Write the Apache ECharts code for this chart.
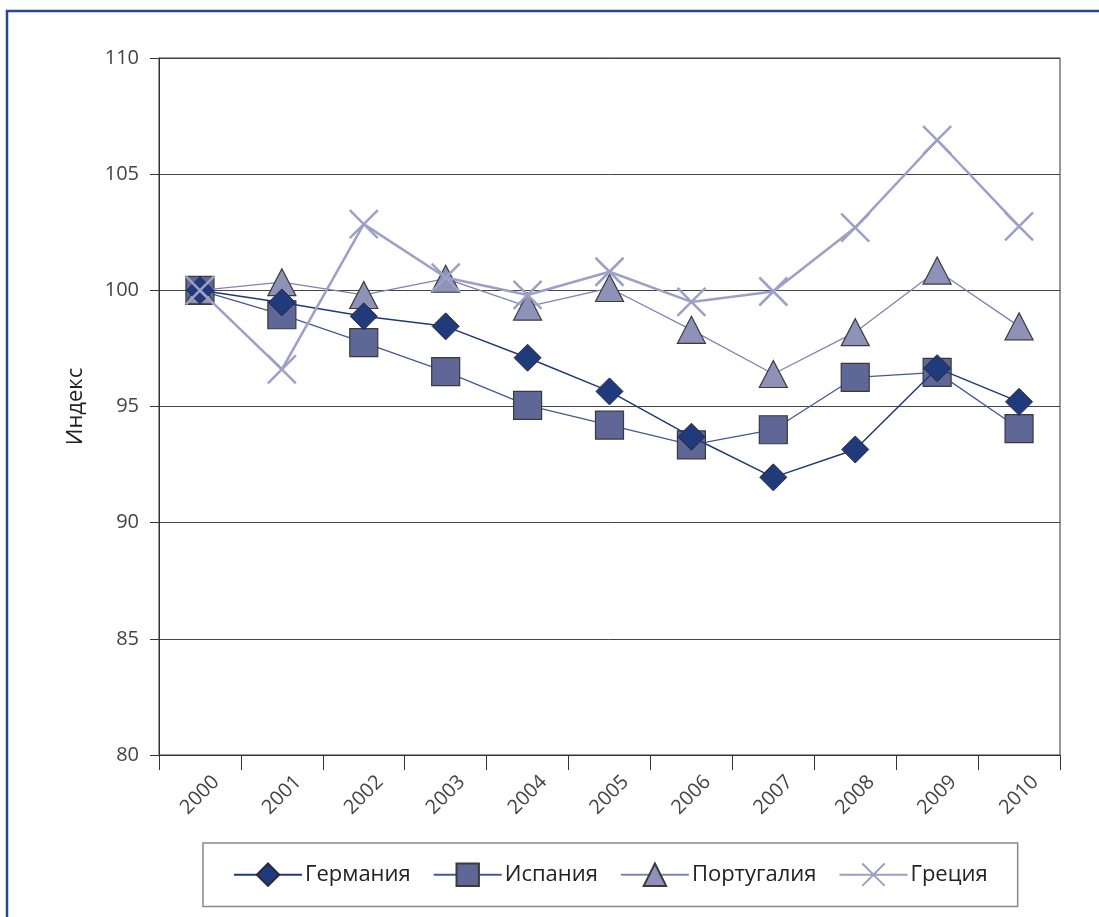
<!DOCTYPE html>
<html>
<head>
<meta charset="utf-8">
<script src="https://cdn.jsdelivr.net/npm/echarts@6/dist/echarts.min.js"></script>
<style>
html,body{margin:0;padding:0;background:#fff;}
#chart{width:1099px;height:917px;}
</style>
</head>
<body>
<div id="chart"></div>
<script>
const years = ['2000','2001','2002','2003','2004','2005','2006','2007','2008','2009','2010'];
const germany  = [100, 99.48, 98.88, 98.45, 97.1, 95.65, 93.7, 91.95, 93.15, 96.65, 95.2];
const spain    = [100, 98.95, 97.75, 96.5, 95.05, 94.2, 93.35, 94.0, 96.25, 96.47, 94.05];
const portugal = [100, 100.35, 99.8, 100.5, 99.3, 100.1, 98.3, 96.4, 98.2, 100.85, 98.45];
const greece   = [100, 96.6, 102.85, 100.55, 99.8, 100.8, 99.5, 99.95, 102.7, 106.47, 102.75];
const yTicks = { min: 80, max: 110, interval: 5 };
const seriesNames = ['Германия', 'Испания', 'Португалия', 'Греция'];

const FONT = '"Open Sans", "Noto Sans", sans-serif';
const chart = echarts.init(document.getElementById('chart'), null, { renderer: 'canvas' });
const crossPath = 'path://M0,0 L20,20 M20,0 L0,20';

chart.setOption({
  animation: false,
  backgroundColor: '#ffffff',
  graphic: [{
    type: 'rect',
    shape: { x: 7, y: 11, width: 1200, height: 1000 },
    style: { fill: 'none', stroke: '#2a4690', lineWidth: 2.5 },
    z: 100
  }],
  grid: {
    left: 159, right: 39, top: 58, bottom: 162,
    show: true, borderColor: '#333', borderWidth: 1, backgroundColor: 'transparent'
  },
  legend: {
    top: 843, left: 203,
    padding: [18, 30, 18, 30],
    borderColor: '#888', borderWidth: 1.5,
    itemWidth: 68, itemHeight: 28, itemGap: 22,
    textStyle: { fontFamily: FONT, fontSize: 22, color: '#222', padding: [0, 0, 0, -2] },
    data: seriesNames
  },
  xAxis: {
    type: 'category',
    data: years,
    boundaryGap: true,
    axisLine: { lineStyle: { color: '#333', width: 1 } },
    axisTick: { show: true, length: 15, lineStyle: { color: '#333' } },
    axisLabel: {
      rotate: 45, margin: 40, align: 'center', verticalAlign: 'middle',
      fontFamily: FONT, fontSize: 20, color: '#444'
    },
    splitLine: { show: false }
  },
  yAxis: {
    type: 'value',
    min: yTicks.min, max: yTicks.max, interval: yTicks.interval,
    name: 'Индекс',
    nameLocation: 'middle',
    nameGap: 72,
    nameRotate: 90,
    nameTextStyle: { fontFamily: FONT, fontSize: 22, color: '#222' },
    axisLine: { show: true, lineStyle: { color: '#333', width: 1 } },
    axisTick: { show: true, length: 9, lineStyle: { color: '#333' } },
    axisLabel: { fontFamily: FONT, fontSize: 20, color: '#444', margin: 20 },
    splitLine: { show: true, lineStyle: { color: '#444', width: 1 } }
  },
  series: [
    {
      name: seriesNames[0], type: 'line', data: germany, z: 4,
      symbol: 'diamond', symbolSize: 27,
      lineStyle: { color: '#1f3a7a', width: 1.5 },
      itemStyle: { color: '#1f3b7c', borderColor: '#2a2a3a', borderWidth: 1 }
    },
    {
      name: seriesNames[1], type: 'line', data: spain, z: 2,
      symbol: 'rect', symbolSize: 28,
      lineStyle: { color: '#46579a', width: 1.3 },
      itemStyle: { color: '#5f6796', borderColor: '#3a3a3a', borderWidth: 1.2 }
    },
    {
      name: seriesNames[2], type: 'line', data: portugal, z: 3,
      symbol: 'triangle', symbolSize: [28, 27],
      lineStyle: { color: '#7e84b2', width: 1.3 },
      itemStyle: { color: '#8e92b8', borderColor: '#3a3a3a', borderWidth: 1.2 }
    },
    {
      name: seriesNames[3], type: 'line', data: greece, z: 5,
      symbol: crossPath, symbolSize: 28,
      lineStyle: { color: '#9da0c6', width: 2.5 },
      itemStyle: { color: 'none', borderColor: '#9da0c6', borderWidth: 2.5 }
    }
  ]
});
</script>
</body>
</html>
